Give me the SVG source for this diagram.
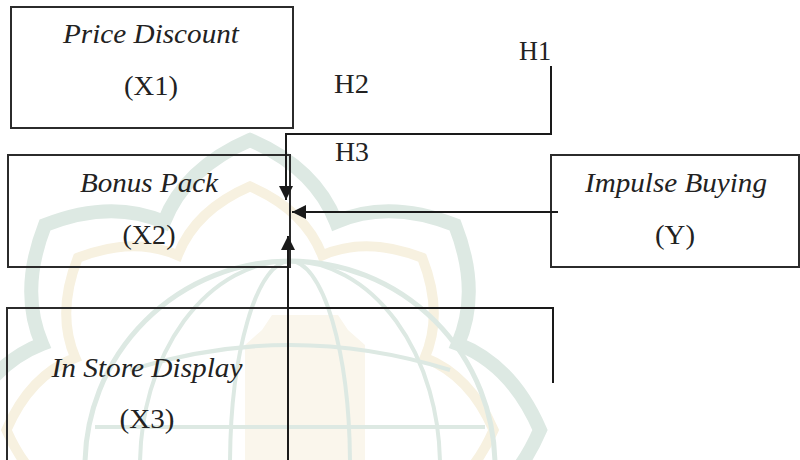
<svg xmlns="http://www.w3.org/2000/svg" width="800" height="460" viewBox="0 0 800 460">
  <style>
    .box { fill: none; stroke: #2b2b2b; stroke-width: 2; }
    .lbl { font-family: "Liberation Serif", "Times New Roman", serif; font-size: 28px; fill: #222; }
    .it { font-style: italic; }
    .mid { text-anchor: middle; }
    .conn { fill: none; stroke: #1a1a1a; stroke-width: 2; }
    .wm-g { fill: none; stroke: #dde9e3; }
    .wm-y { fill: none; stroke: #f7f1e0; }
  </style>
  <defs>
    <marker id="arrow" viewBox="0 0 10 10" refX="10" refY="5" markerWidth="15" markerHeight="14" markerUnits="userSpaceOnUse" orient="auto">
      <path d="M0,0 L10,5 L0,10 z" fill="#1a1a1a"/>
    </marker>
  </defs>
  <rect width="800" height="460" fill="#ffffff"/>

  <g id="watermark">
    <path class="wm-g" stroke-width="14" d="M164 222 Q185 168 250 140 Q315 168 336 222 Q389 199 455 225 Q481 291 458 344 Q512 365 540 430 Q512 495 458 516 Q481 569 455 635 Q389 661 336 638 Q315 692 250 720 Q185 692 164 638 Q111 661 45 635 Q19 569 42 516 Q-12 495 -40 430 Q-12 365 42 344 Q19 291 45 225 Q111 199 164 222 Z"/>
    <path class="wm-y" stroke-width="12" transform="translate(250,430) scale(0.84) translate(-250,-430)" d="M164 222 Q185 168 250 140 Q315 168 336 222 Q389 199 455 225 Q481 291 458 344 Q512 365 540 430 Q512 495 458 516 Q481 569 455 635 Q389 661 336 638 Q315 692 250 720 Q185 692 164 638 Q111 661 45 635 Q19 569 42 516 Q-12 495 -40 430 Q-12 365 42 344 Q19 291 45 225 Q111 199 164 222 Z"/>
    <path d="M245 345 L262 330 L272 315 L338 315 L348 330 L365 345 L365 460 L245 460 Z" fill="#faf6ec"/>
    <circle class="wm-g" stroke-width="5" cx="290" cy="466" r="205"/>
    <ellipse class="wm-g" stroke-width="4" cx="290" cy="466" rx="150" ry="205"/>
    <ellipse class="wm-g" stroke-width="4" cx="290" cy="466" rx="60" ry="205"/>
    <path class="wm-g" stroke-width="4" d="M130 370 Q290 320 450 370 M95 427 L485 427"/>
  </g>

  <g id="x1">
    <rect class="box" x="11" y="7" width="282" height="121"/>
    <text class="lbl it mid" x="151" y="43" textLength="176" lengthAdjust="spacingAndGlyphs">Price Discount</text>
    <text class="lbl mid" x="151" y="95" textLength="54" lengthAdjust="spacingAndGlyphs">(X1)</text>
  </g>
  <g id="x2">
    <rect class="box" x="8" y="155" width="282" height="112"/>
    <text class="lbl it mid" x="149" y="192" textLength="138" lengthAdjust="spacingAndGlyphs">Bonus Pack</text>
    <text class="lbl mid" x="149" y="244" textLength="53" lengthAdjust="spacingAndGlyphs">(X2)</text>
  </g>
  <g id="x3">
    <rect class="box" x="7" y="308" width="281" height="170"/>
    <text class="lbl it mid" x="147" y="377" textLength="191" lengthAdjust="spacingAndGlyphs">In Store Display</text>
    <text class="lbl mid" x="147" y="428" textLength="55" lengthAdjust="spacingAndGlyphs">(X3)</text>
  </g>
  <g id="y">
    <rect class="box" x="551" y="155" width="248" height="112"/>
    <text class="lbl it mid" x="676" y="192" textLength="182" lengthAdjust="spacingAndGlyphs">Impulse Buying</text>
    <text class="lbl mid" x="675" y="244" textLength="40" lengthAdjust="spacingAndGlyphs">(Y)</text>
  </g>

  <g id="connectors">
    <path class="conn" d="M551 66 V134 H286 V200" marker-end="url(#arrow)"/>
    <path class="conn" d="M558 212 H292" marker-end="url(#arrow)"/>
    <path class="conn" d="M553 383 V308 H288 V236" marker-end="url(#arrow)"/>
    <line class="conn" x1="288" y1="236" x2="288" y2="460"/>
    <text class="lbl" x="519" y="60" textLength="32" lengthAdjust="spacingAndGlyphs">H1</text>
    <text class="lbl" x="334" y="93" textLength="35" lengthAdjust="spacingAndGlyphs">H2</text>
    <text class="lbl" x="335" y="161" textLength="34" lengthAdjust="spacingAndGlyphs">H3</text>
  </g>
</svg>
